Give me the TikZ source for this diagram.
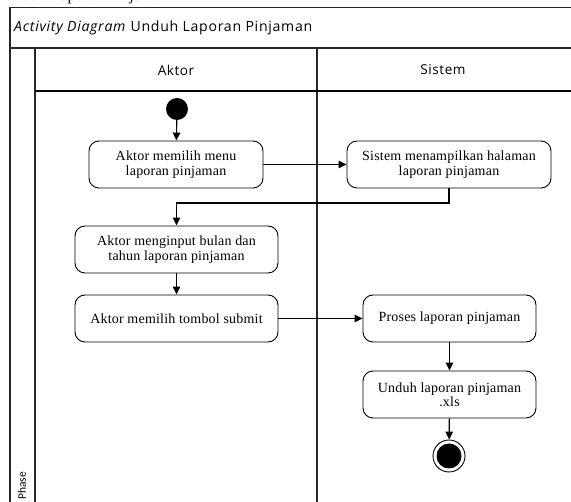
\documentclass[tikz,border=0pt]{standalone}
\usepackage{fontspec}
\setmainfont{Liberation Serif}[LetterSpace=1.5]
\newfontfamily\headingfont{Liberation Serif}
\newfontfamily\uisans{Open Sans}[LetterSpace=4]
\newfontfamily\titlesans{Open Sans}[LetterSpace=5]
\newfontfamily\phasefont{Carlito}
\usetikzlibrary{arrows.meta}
\begin{document}
\begin{tikzpicture}[x=1pt,y=-1pt,
  frameline/.style={line width=1.4pt,black!85},
  flow/.style={line width=1.1pt,-{Triangle[length=8pt,width=7.5pt]}},
  action/.style={draw,line width=0.9pt,rounded corners=10pt,align=center,
    font=\fontsize{14}{14.5}\selectfont,inner sep=0pt},
  lanehead/.style={font=\uisans\fontsize{13.6}{15}\selectfont}]
\useasboundingbox (0,0) rectangle (571,502);
\fill[white] (0,0) rectangle (571,502);

% heading above the frame
\node[anchor=base west,inner sep=0pt,font=\headingfont\fontsize{16}{18}\selectfont] (heading) at (3,1) {Unduh Laporan Pinjaman};

% swimlane frame
\draw[frameline] (600,7.5) -- (10,7.5) -- (10,510);
\draw[frameline] (10,48) -- (600,48);
\draw[frameline] (35,48) -- (35,510);
\draw[frameline] (317,48) -- (317,510);
\draw[line width=1.1pt] (35,91) -- (600,91);

\node[anchor=west,inner sep=0pt,font=\titlesans\fontsize{14.1}{15}\selectfont] (title) at (14,28)
  {\textit{Activity Diagram} Unduh Laporan Pinjaman};
\node[lanehead] (laneA) at (176,70) {Aktor};
\node[lanehead] (laneS) at (443,70) {Sistem};
\node[rotate=90,anchor=west,inner sep=0pt,font=\phasefont\fontsize{11.5}{13}\selectfont] (phase) at (22,500) {Phase};

% activities
\node[circle,fill=black,minimum size=22pt,inner sep=0pt] (start) at (177,109) {};
\node[action,minimum width=174pt,minimum height=47pt] (a1) at (176,164.5)
  {Aktor memilih menu\\laporan pinjaman};
\node[action,minimum width=204pt,minimum height=47pt] (s1) at (449,164.5)
  {Sistem menampilkan halaman\\laporan pinjaman};
\node[action,minimum width=203pt,minimum height=47pt] (a2) at (176.5,249.5)
  {Aktor menginput bulan dan\\tahun laporan pinjaman};
\node[action,minimum width=203pt,minimum height=47pt] (a3) at (176.5,318.5)
  {Aktor memilih tombol submit};
\node[action,minimum width=173pt,minimum height=47pt] (s2) at (449.5,318.5)
  {Proses laporan pinjaman};
\node[action,minimum width=173pt,minimum height=47pt] (s3) at (449.5,394.5)
  {Unduh laporan pinjaman\\.xls};
\node[circle,draw,line width=0.9pt,minimum size=32pt,inner sep=0pt] (stop) at (449,456) {};
\fill (stop.center) circle (12.5pt);
\coordinate (bend) at (449,203);

% control flow
\draw[flow] (start) -- (a1);
\draw[flow] (a1) -- (s1);
\draw[flow] (s1.south -| bend) -- (bend) -| (a2.north);
\draw[flow] (a2) -- (a3);
\draw[flow] (a3) -- (s2);
\draw[flow] (s2) -- (s3);
\draw[flow] (s3) -- (stop);
\end{tikzpicture}
\end{document}
